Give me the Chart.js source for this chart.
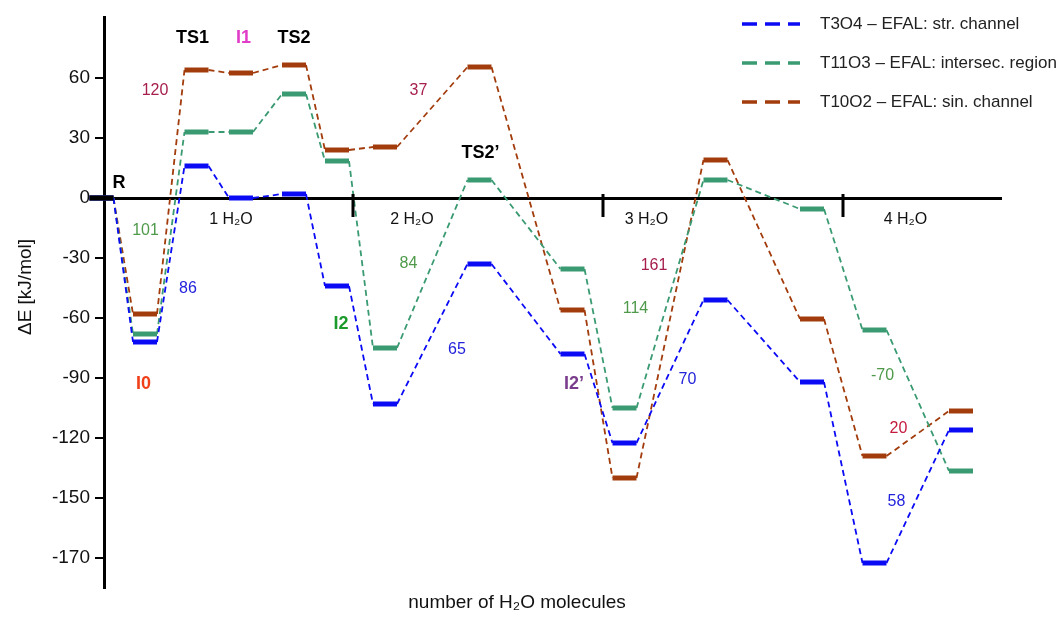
<!DOCTYPE html>
<html>
<head>
<meta charset="utf-8">
<script src="https://cdn.jsdelivr.net/npm/chart.js@4.4.1/dist/chart.umd.min.js"></script>
<style>
  html, body { margin: 0; padding: 0; background: #fff; }
</style>
</head>
<body>
<canvas id="myChart" width="1061" height="626"></canvas>
<script>
/* Energy profile: EFAL sites, 1 to 4 water molecules. */

// stage positions along the reaction coordinate (R, I0, TS1, I1, TS2, I2, then the 2/3/4 H2O steps)
const stageX = [-0.25, 4.1, 9.25, 13.7, 19.0, 23.3, 28.1, 37.55, 46.85, 52.05, 61.15, 70.8, 77.05, 85.7];

// relative energies in kJ/mol, one per stage
const t3o4  = [0, -72, 16, 0, 2, -44, -103, -33, -78, -122.5, -51, -92, -182.5, -116];
const t11o3 = [0, -68, 33, 33, 52, 18.5, -75, 9, -35.5, -105, 9, -5.5, -66, -136.5];
const t10o2 = [0, -58, 64, 62.5, 66.5, 24, 25.5, 65.5, -56, -140, 19, -60.5, -129, -106.5];

const seriesNames = ['T3O4 – EFAL: str. channel', 'T11O3 – EFAL: intersec. region', 'T10O2 – EFAL: sin. channel'];

// y ticks (the bottom one is labelled -170 in the original figure)
const yTickValues = [60, 30, 0, -30, -60, -90, -120, -150, -180];
const yTickLabels = ['60', '30', '0', '-30', '-60', '-90', '-120', '-150', '-170'];

// water-number regions
const groupBounds = [24.9, 49.9, 73.9];
const groupLabels = ['1 H₂O', '2 H₂O', '3 H₂O', '4 H₂O'];
const groupLabelX = [12.7, 30.8, 54.25, 80.15];

// stage names [text, x, energy]
const stageNames = [
    ['R', 1.5, 7.5], ['TS1', 8.85, 80], ['I1', 13.95, 80], ['TS2', 19.0, 80],
    ['I0', 3.95, -93], ['I2', 23.7, -63], ['TS2’', 37.65, 22.5], ['I2’', 47.0, -93]
];

// barrier heights [text, x, energy, series index]
const barrierLabels = [
    ['86', 8.4, -45.5, 0], ['65', 35.3, -76, 0], ['70', 58.35, -91, 0], ['58', 79.25, -152, 0],
    ['101', 4.15, -16.5, 1], ['84', 30.45, -33, 1], ['114', 53.15, -55.5, 1], ['-70', 77.85, -89, 1],
    ['120', 5.1, 53.5, 2], ['37', 31.45, 53.5, 2], ['161', 55.0, -34, 2], ['20', 79.45, -115.5, 2]
];

const FONT = '"Liberation Sans", Arial, sans-serif';
const lineColors = ['#0a0af5', '#3a9a72', '#a23c0c'];
const barrierColors = ['#2323dc', '#4e9a4a', '#a61e4d'];
const nameColors = { 'I1': '#e03cc8', 'I0': '#f0401a', 'I2': '#1c9a2c', 'I2’': '#7a3c8c' };
const halfW = 1.2; // half width of an energy level

function levelPoints(values) {
    const pts = [];
    stageX.forEach((x, i) => {
        pts.push({x: x - halfW, y: values[i]});
        pts.push({x: x + halfW, y: values[i]});
    });
    return pts;
}

function seriesDataset(values, color) {
    return {
        data: levelPoints(values),
        borderColor: color,
        borderWidth: 1.8,
        borderDash: [6, 4],
        pointRadius: 0,
        tension: 0,
        clip: false,
        segment: {  // even segments are the levels, odd ones the dashed connectors
            borderWidth: ctx => ctx.p0DataIndex % 2 === 0 ? 5 : 1.8,
            borderDash: ctx => ctx.p0DataIndex % 2 === 0 ? [] : [6, 4]
        }
    };
}

const labelPlugin = {
    id: 'energyLabels',
    afterDraw(chart) {
        const {ctx, scales: {x, y}} = chart;
        const y0 = y.getPixelForValue(0);
        ctx.save();

        // region separators on the zero line
        ctx.strokeStyle = '#000';
        ctx.lineWidth = 3;
        groupBounds.forEach(b => {
            const px = x.getPixelForValue(b);
            ctx.beginPath();
            ctx.moveTo(px, y0 - 4);
            ctx.lineTo(px, y0 + 19);
            ctx.stroke();
        });

        ctx.textAlign = 'center';
        ctx.textBaseline = 'middle';
        ctx.fillStyle = '#111';
        ctx.font = '16px ' + FONT;
        groupLabels.forEach((t, i) => {
            ctx.fillText(t, x.getPixelForValue(groupLabelX[i]), y.getPixelForValue(-11));
        });

        ctx.font = 'bold 18px ' + FONT;
        stageNames.forEach(([t, sx, sy]) => {
            ctx.fillStyle = nameColors[t] || '#000';
            ctx.fillText(t, x.getPixelForValue(sx), y.getPixelForValue(sy));
        });

        ctx.font = '16px ' + FONT;
        barrierLabels.forEach(([t, bx, by, s]) => {
            ctx.fillStyle = barrierColors[s];
            if (t === '20') ctx.fillStyle = '#c41a3c';
            ctx.fillText(t, x.getPixelForValue(bx), y.getPixelForValue(by));
        });

        // axis titles
        ctx.fillStyle = '#111';
        ctx.font = '19px ' + FONT;
        ctx.fillText('number of H₂O molecules', 517, 603);
        ctx.save();
        ctx.translate(26, 287);
        ctx.rotate(-Math.PI / 2);
        ctx.font = '19px ' + FONT;
        ctx.fillText('ΔE [kJ/mol]', 0, 0);
        ctx.restore();

        // legend
        ctx.textAlign = 'left';
        ctx.font = '17px ' + FONT;
        seriesNames.forEach((name, i) => {
            const ly = 24 + i * 39;
            ctx.strokeStyle = lineColors[i];
            ctx.lineWidth = 3.5;
            ctx.setLineDash([15, 8]);
            ctx.beginPath();
            ctx.moveTo(742, ly);
            ctx.lineTo(800, ly);
            ctx.stroke();
            ctx.fillStyle = '#222';
            ctx.fillText(name, 820, ly);
        });
        ctx.restore();
    }
};

const myChart = new Chart(document.getElementById('myChart'), {
    type: 'line',
    data: {
        datasets: [
            {   // reactant level, shared by all three
                data: [{x: stageX[0] - halfW, y: 0}, {x: stageX[0] + halfW, y: 0}],
                borderColor: '#000',
                borderWidth: 5,
                pointRadius: 0,
                clip: false
            },
            seriesDataset(t3o4, lineColors[0]),
            seriesDataset(t11o3, lineColors[1]),
            seriesDataset(t10o2, lineColors[2])
        ]
    },
    options: {
        responsive: false,
        animation: false,
        layout: { padding: { top: 17, bottom: 37, right: 59, left: 0 } },
        plugins: {
            legend: { display: false },
            tooltip: { enabled: false }
        },
        scales: {
            x: {
                type: 'linear',
                min: 0,
                max: 89.8,
                display: false
            },
            y: {
                type: 'linear',
                min: -195.5,
                max: 90.5,
                afterFit: scale => { scale.width = 104; },
                afterBuildTicks: scale => { scale.ticks = yTickValues.map(v => ({value: v})); },
                border: { color: '#000', width: 3 },
                grid: {
                    color: c => c.tick && c.tick.value === 0 ? '#000' : 'rgba(0,0,0,0)',
                    lineWidth: c => c.tick && c.tick.value === 0 ? 3 : 0,
                    tickColor: '#000',
                    tickWidth: 2,
                    tickLength: 9
                },
                ticks: {
                    color: '#111',
                    padding: 5,
                    font: { size: 19, family: FONT },
                    callback: (value, index) => yTickLabels[index]
                }
            }
        }
    },
    plugins: [labelPlugin]
});
</script>
</body>
</html>
